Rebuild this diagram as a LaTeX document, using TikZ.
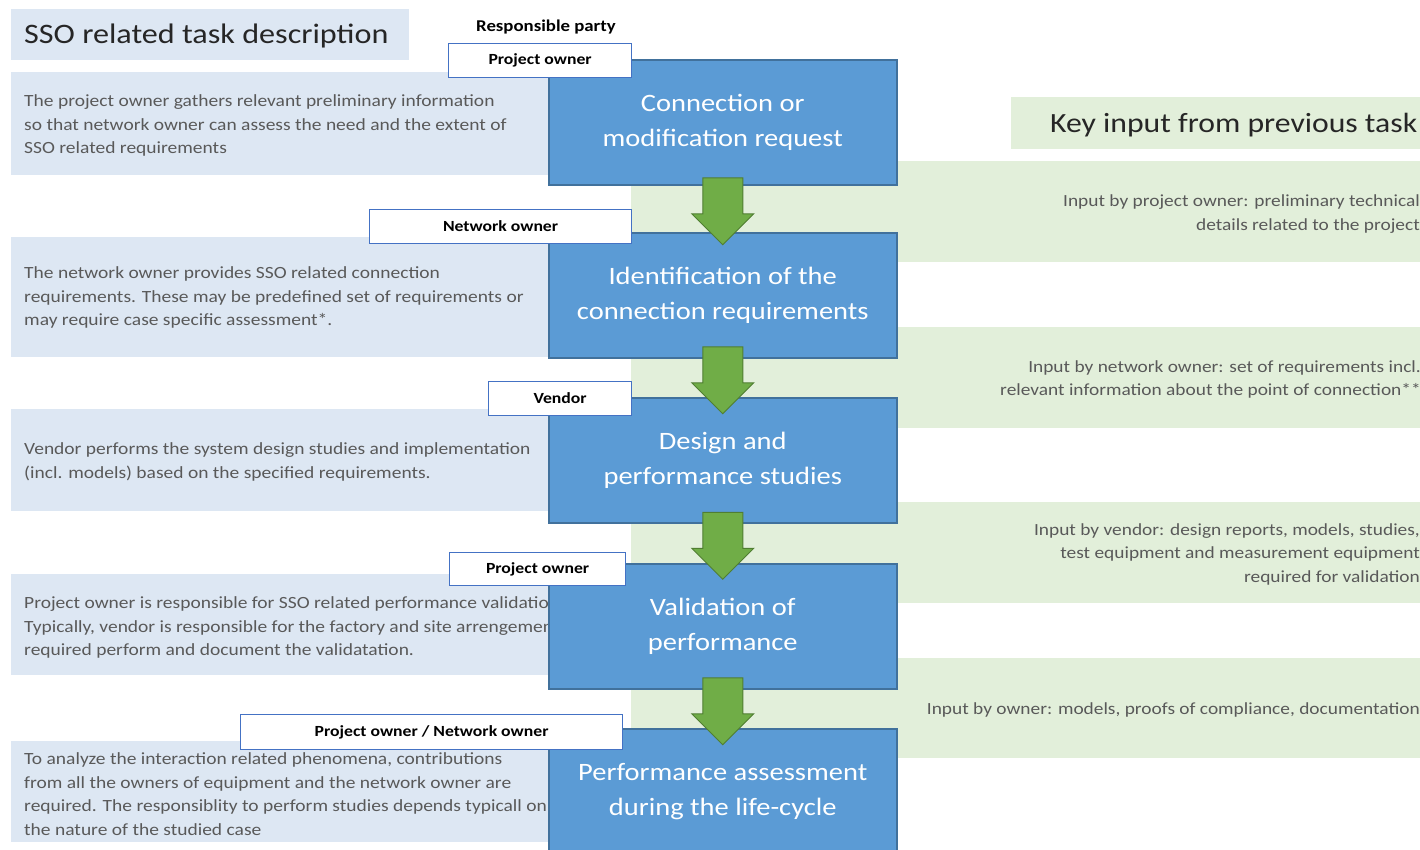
\documentclass[tikz,border=0pt]{standalone}
\usepackage{fontspec}
\setmainfont{Carlito}[FakeStretch=1.14]
\usetikzlibrary{calc}
\definecolor{descbg}{HTML}{DDE7F3}
\definecolor{greenbg}{HTML}{E2EFDA}
\definecolor{boxblue}{HTML}{5B9BD5}
\definecolor{boxedge}{HTML}{41719C}
\definecolor{arrowgreen}{HTML}{70AD47}
\definecolor{arrowedge}{HTML}{507E32}
\definecolor{labeledge}{HTML}{4472C4}
\definecolor{txtgray}{HTML}{595959}
\definecolor{titletxt}{HTML}{262626}
\newcommand\flowarrow[2]{%
  \coordinate (m#1#2) at ($(#1.south)!0.5!(#2.north)$);
  \draw[garrow] ($(m#1#2)+(-20,-31)$) -- ($(m#1#2)+(20,-31)$) -- ($(m#1#2)+(20,5)$)
    -- ($(m#1#2)+(31,5)$) -- ($(m#1#2)+(0,36)$) -- ($(m#1#2)+(-31,5)$)
    -- ($(m#1#2)+(-20,5)$) -- cycle;}
\begin{document}
\begin{tikzpicture}[x=1pt,y=-1pt,
  descbox/.style={fill=descbg, anchor=north west, minimum width=537pt, inner sep=0pt},
  desctext/.style={anchor=west, align=left, inner sep=0pt,
    font=\fontsize{17.1}{23.5}\selectfont, text=txtgray},
  panel/.style={fill=greenbg, anchor=north west, minimum width=795pt, inner sep=0pt},
  rtext/.style={anchor=east, align=right, inner sep=0pt,
    font=\fontsize{17}{23.5}\selectfont, text=txtgray},
  bluebox/.style={fill=boxblue, draw=boxedge, line width=1.5pt, anchor=north west,
    minimum width=348pt, minimum height=125pt, align=center, text=white,
    font=\fontsize{25}{35}\selectfont, execute at begin node={\rule{0pt}{22pt}}},
  partylabel/.style={fill=white, draw=labeledge, line width=1.2pt, anchor=north west,
    inner sep=0pt, font=\fontsize{15.5}{18}\selectfont\bfseries, text=black},
  garrow/.style={fill=arrowgreen, draw=arrowedge, line width=1pt, line join=miter},
  bigtitle/.style={font=\fontsize{28.2}{34}\selectfont, text=titletxt, inner sep=0pt}
]
\useasboundingbox (0,0) rectangle (1420,849);
\fill[white] (0,0) rectangle (1420,849);

% headers
\node[fill=descbg, anchor=north west, minimum width=398pt, minimum height=51pt] (titlebox) at (11,9) {};
\node[bigtitle, anchor=west] (title) at (24,36) {SSO related task description};
\node[fill=greenbg, anchor=north west, minimum width=420pt, minimum height=52pt] (keybox) at (1011,97) {};
\node[bigtitle, anchor=west, font=\fontsize{27.8}{34}\selectfont] (keytitle) at (1050,125) {Key input from previous task};
\node[font=\fontsize{16.5}{18}\selectfont\bfseries, inner sep=0pt] (rp) at (546,27) {Responsible party};

% green input panels
\node[panel, minimum height=101pt] (p1) at (631,161) {};
\node[panel, minimum height=101pt] (p2) at (631,327) {};
\node[panel, minimum height=101pt] (p3) at (631,502) {};
\node[panel, minimum height=100pt] (p4) at (631,658) {};
\node[rtext] (r1) at (1420,214) {Input by project owner: preliminary technical\\details related to the project};
\node[rtext] (r2) at (1421,379.5) {Input by network owner: set of requirements incl.\\relevant information about the point of connection**};
\node[rtext] (r3) at (1420,554) {Input by vendor: design reports, models, studies,\\test equipment and measurement equipment\\required for validation};
\node[rtext] (r4) at (1420,710) {Input by owner: models, proofs of compliance, documentation};

% task descriptions
\node[descbox, minimum height=103pt] (d1) at (11,72) {};
\node[descbox, minimum height=120pt] (d2) at (11,237) {};
\node[descbox, minimum height=102pt] (d3) at (11,409) {};
\node[descbox, minimum height=101pt] (d4) at (11,574) {};
\node[descbox, minimum height=101pt] (d5) at (11,741) {};
\node[desctext] (t1) at (24,125.5) {The project owner gathers relevant preliminary information\\so that network owner can assess the need and the extent of\\SSO related requirements};
\node[desctext] (t2) at (24,297.5) {The network owner provides SSO related connection\\requirements. These may be predefined set of requirements or\\may require case specific assessment*.};
\node[desctext] (t3) at (24,462) {Vendor performs the system design studies and implementation\\(incl. models) based on the specified requirements.};
\node[desctext] (t4) at (24,627.5) {Project owner is responsible for SSO related performance validation.\\Typically, vendor is responsible for the factory and site arrengements\\required perform and document the validatation.};
\node[desctext] (t5) at (24,794) {To analyze the interaction related phenomena, contributions\\from all the owners of equipment and the network owner are\\required. The responsiblity to perform studies depends typicall on\\the nature of the studied case};

% process boxes
\node[bluebox] (b1) at (548,59) {Connection or\\modification request};
\node[bluebox] (b2) at (548,232) {Identification of the\\connection requirements};
\node[bluebox] (b3) at (548,397) {Design and\\performance studies};
\node[bluebox] (b4) at (548,563) {Validation of\\performance};
\node[bluebox] (b5) at (548,728) {Performance assessment\\during the life-cycle};

% responsible party labels
\node[partylabel, minimum width=183pt, minimum height=34pt] (l1) at (448,43) {Project owner};
\node[partylabel, minimum width=262pt, minimum height=34pt] (l2) at (369,209) {Network owner};
\node[partylabel, minimum width=143pt, minimum height=34pt] (l3) at (488,381) {Vendor};
\node[partylabel, minimum width=176pt, minimum height=33pt] (l4) at (449,552) {Project owner};
\node[partylabel, minimum width=382pt, minimum height=35pt] (l5) at (240,714) {Project owner / Network owner};

% flow arrows
\flowarrow{b1}{b2}
\flowarrow{b2}{b3}
\flowarrow{b3}{b4}
\flowarrow{b4}{b5}
\end{tikzpicture}
\end{document}
